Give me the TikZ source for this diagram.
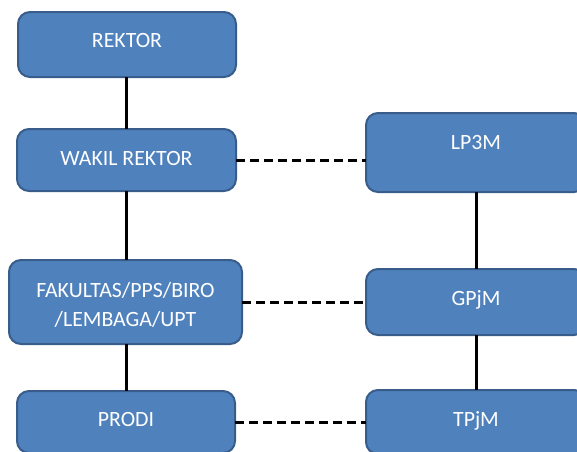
\documentclass[tikz,border=0pt]{standalone}
\usepackage{fontspec}
\setmainfont{Carlito}
\definecolor{boxfill}{HTML}{4F81BD}
\definecolor{boxdraw}{HTML}{385D8A}
\begin{document}
\begin{tikzpicture}[x=1pt,y=-1pt,
  box/.style={draw=boxdraw, fill=boxfill, line width=2pt, rounded corners=12pt,
    inner sep=0pt, outer sep=0pt},
  lbl/.style={text=white, anchor=base, inner sep=0pt, align=center,
    font=\fontsize{21.8}{29}\selectfont},
  solidlink/.style={line width=3pt, black},
  dashlink/.style={line width=3pt, black, dash pattern=on 9pt off 5pt}]
\useasboundingbox (0,0) rectangle (577,451);
\clip (0,0) rectangle (577,451);
% boxes
\node[box, minimum width=218pt, minimum height=65pt] (rektor) at (127,44.5) {};
\node[box, minimum width=219pt, minimum height=62pt] (wakil) at (126.5,160) {};
\node[box, minimum width=233pt, minimum height=84pt] (fak) at (125.5,302) {};
\node[box, minimum width=218pt, minimum height=62pt] (prodi) at (126,422) {};
\node[box, minimum width=220pt, minimum height=79pt] (lp3m) at (476,152.5) {};
\node[box, minimum width=220pt, minimum height=66pt] (gpjm) at (476,302) {};
\node[box, minimum width=220pt, minimum height=64pt] (tpjm) at (476,422) {};
% labels
\node[lbl] (trektor) at (127,47) {REKTOR};
\node[lbl] (twakil) at (126.5,165) {WAKIL REKTOR};
\node[lbl] (tfak1) at (125.5,297) {FAKULTAS/PPS/BIRO};
\node[lbl] (tfak2) at (125.5,326) {/LEMBAGA/UPT};
\node[lbl] (tprodi) at (126,426) {PRODI};
\node[lbl] (tlp3m) at (476,149) {LP3M};
\node[lbl] (tgpjm) at (476,305) {GPjM};
\node[lbl] (ttpjm) at (476,426) {TPjM};
% solid connectors
\draw[solidlink] (rektor.south -| 126,0) -- (wakil.north -| 126,0);
\draw[solidlink] (wakil.south -| 126,0) -- (fak.north -| 126,0);
\draw[solidlink] (fak.south -| 126,0) -- (prodi.north -| 126,0);
\draw[solidlink] (lp3m.south) -- (gpjm.north);
\draw[solidlink] (gpjm.south) -- (tpjm.north);
% dashed connectors
\draw[dashlink] (wakil.east) -- (lp3m.west |- wakil.east);
\draw[dashlink] (fak.east) -- (gpjm.west |- fak.east);
\draw[dashlink] (prodi.east) -- (tpjm.west |- prodi.east);
\end{tikzpicture}
\end{document}
